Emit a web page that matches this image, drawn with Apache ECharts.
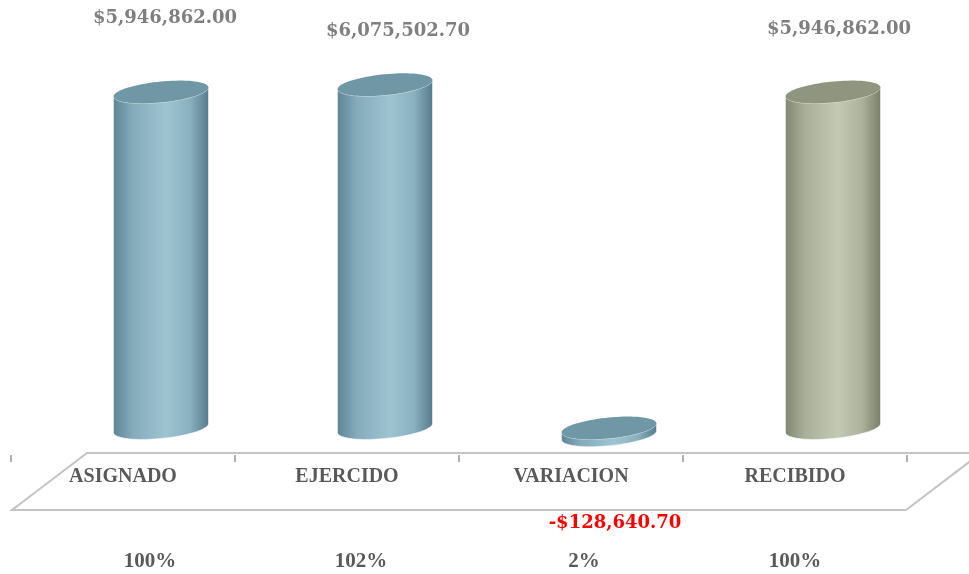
<!DOCTYPE html>
<html>
<head>
<meta charset="utf-8">
<script src="https://cdn.jsdelivr.net/npm/echarts@6/dist/echarts.min.js"></script>
<style>
  html, body { margin: 0; padding: 0; background: #fff; }
  #chart { width: 969px; height: 574px; }
</style>
</head>
<body>
<div id="chart"></div>
<script>
const categories = ['ASIGNADO', 'EJERCIDO', 'VARIACION', 'RECIBIDO']
const amounts = [5946862.00, 6075502.70, -128640.70, 5946862.00]
const percents = ['100%', '102%', '2%', '100%']

// look of each cylinder (blue for the first three, green for RECIBIDO)
const palette = ['blue', 'blue', 'blue', 'green']
const shades = {
  blue: { top: '#6f97a6', stops: ['#5d8494', '#84abba', '#9ec4d2', '#8ab1c0', '#557b8b'] },
  green: { top: '#8f957f', stops: ['#80866f', '#a8ae97', '#c4c9b4', '#adb29c', '#787e67'] }
}

// label nudges, pixels, relative to the top face centre
const labelDx = [4, 13, 6, 6]
const labelDy = [-74, -53, 95, -63]
const pctShift = [27, 14, 13, 0]

const DEPTH_SHIFT = 38   // cylinders sit towards the back of the floor
const BAR_RATIO = 0.424
const RY = 10.5
const TILT = 4.5

const fmtMoney = v => (v < 0 ? '-$' : '$') +
  Math.abs(v).toLocaleString('en-US', { minimumFractionDigits: 2, maximumFractionDigits: 2 })

const chart = echarts.init(document.getElementById('chart'))

const renderCylinder = (params, api) => {
  const i = api.value(0)
  const v = api.value(1)
  const base = api.coord([i, 0])
  const end = api.coord([i, v])
  const rx = api.size([1, 0])[0] * BAR_RATIO / 2
  const cx = base[0] + DEPTH_SHIFT
  const yTop = Math.min(base[1], end[1])
  const yBot = Math.max(base[1], end[1])
  const pt = (t, cy) => [cx + rx * Math.cos(t), cy + RY * Math.sin(t) - TILT * Math.cos(t)]

  const N = 40
  const body = []
  for (let j = 0; j <= N; j++) body.push(pt(Math.PI - j * Math.PI / N, yBot))
  for (let j = 0; j <= N; j++) body.push(pt(j * Math.PI / N, yTop))
  const top = []
  for (let j = 0; j < 2 * N; j++) top.push(pt(j * Math.PI / N, yTop))

  const sh = shades[palette[i]]
  const stops = sh.stops.map((c, k) => ({ offset: [0, 0.2, 0.55, 0.8, 1][k], color: c }))

  return {
    type: 'group',
    children: [
      {
        type: 'polygon',
        shape: { points: body },
        style: {
          fill: { type: 'linear', x: 0, y: 0, x2: 1, y2: 0, colorStops: stops },
          stroke: 'rgba(255,255,255,0.5)',
          lineWidth: 1
        }
      },
      {
        type: 'polygon',
        shape: { points: top },
        style: { fill: sh.top }
      },
      {
        type: 'text',
        x: cx + labelDx[i],
        y: yTop + labelDy[i],
        style: {
          text: fmtMoney(v),
          align: 'center',
          verticalAlign: 'middle',
          fill: v < 0 ? '#ff0000' : '#7f7f7f',
          font: 'bold 18px "DejaVu Serif", serif'
        }
      }
    ]
  }
}

const option = {
  animation: false,
  grid: { left: 11, right: 62, top: 32.5, bottom: 89.5 },
  graphic: [
    {
      type: 'polygon',
      z: -1,
      shape: { points: [[87, 453], [981, 453], [906, 510], [12, 510]] },
      style: { fill: 'none', stroke: '#c4c4c4', lineWidth: 2 }
    }
  ],
  xAxis: [
    {
      type: 'category',
      data: categories,
      offset: -29.5,
      axisLine: { show: false, onZero: false },
      axisTick: { show: true, length: 7, lineStyle: { color: '#b0b0b0', width: 2 } },
      axisLabel: {
        margin: 12,
        color: '#595959',
        fontFamily: 'Liberation Serif',
        fontWeight: 'bold',
        fontSize: 20
      }
    },
    {
      type: 'category',
      data: categories,
      position: 'bottom',
      offset: 62,
      axisLine: { show: false, onZero: false },
      axisTick: { show: false },
      axisLabel: {
        margin: 5,
        formatter: (val, idx) => `{p${idx}|${percents[idx]}}`,
        rich: Object.fromEntries(pctShift.map((s, k) => [`p${k}`, {
          color: '#595959',
          fontFamily: 'Liberation Serif',
          fontWeight: 'bold',
          fontSize: 21,
          padding: [0, 0, 0, 2 * s]
        }]))
      }
    }
  ],
  yAxis: {
    type: 'value',
    min: -1000000,
    max: 7000000,
    show: false
  },
  series: [
    {
      type: 'custom',
      renderItem: renderCylinder,
      data: amounts.map((v, i) => [i, v]),
      encode: { x: 0, y: 1 }
    }
  ]
}

chart.setOption(option)
</script>
</body>
</html>
